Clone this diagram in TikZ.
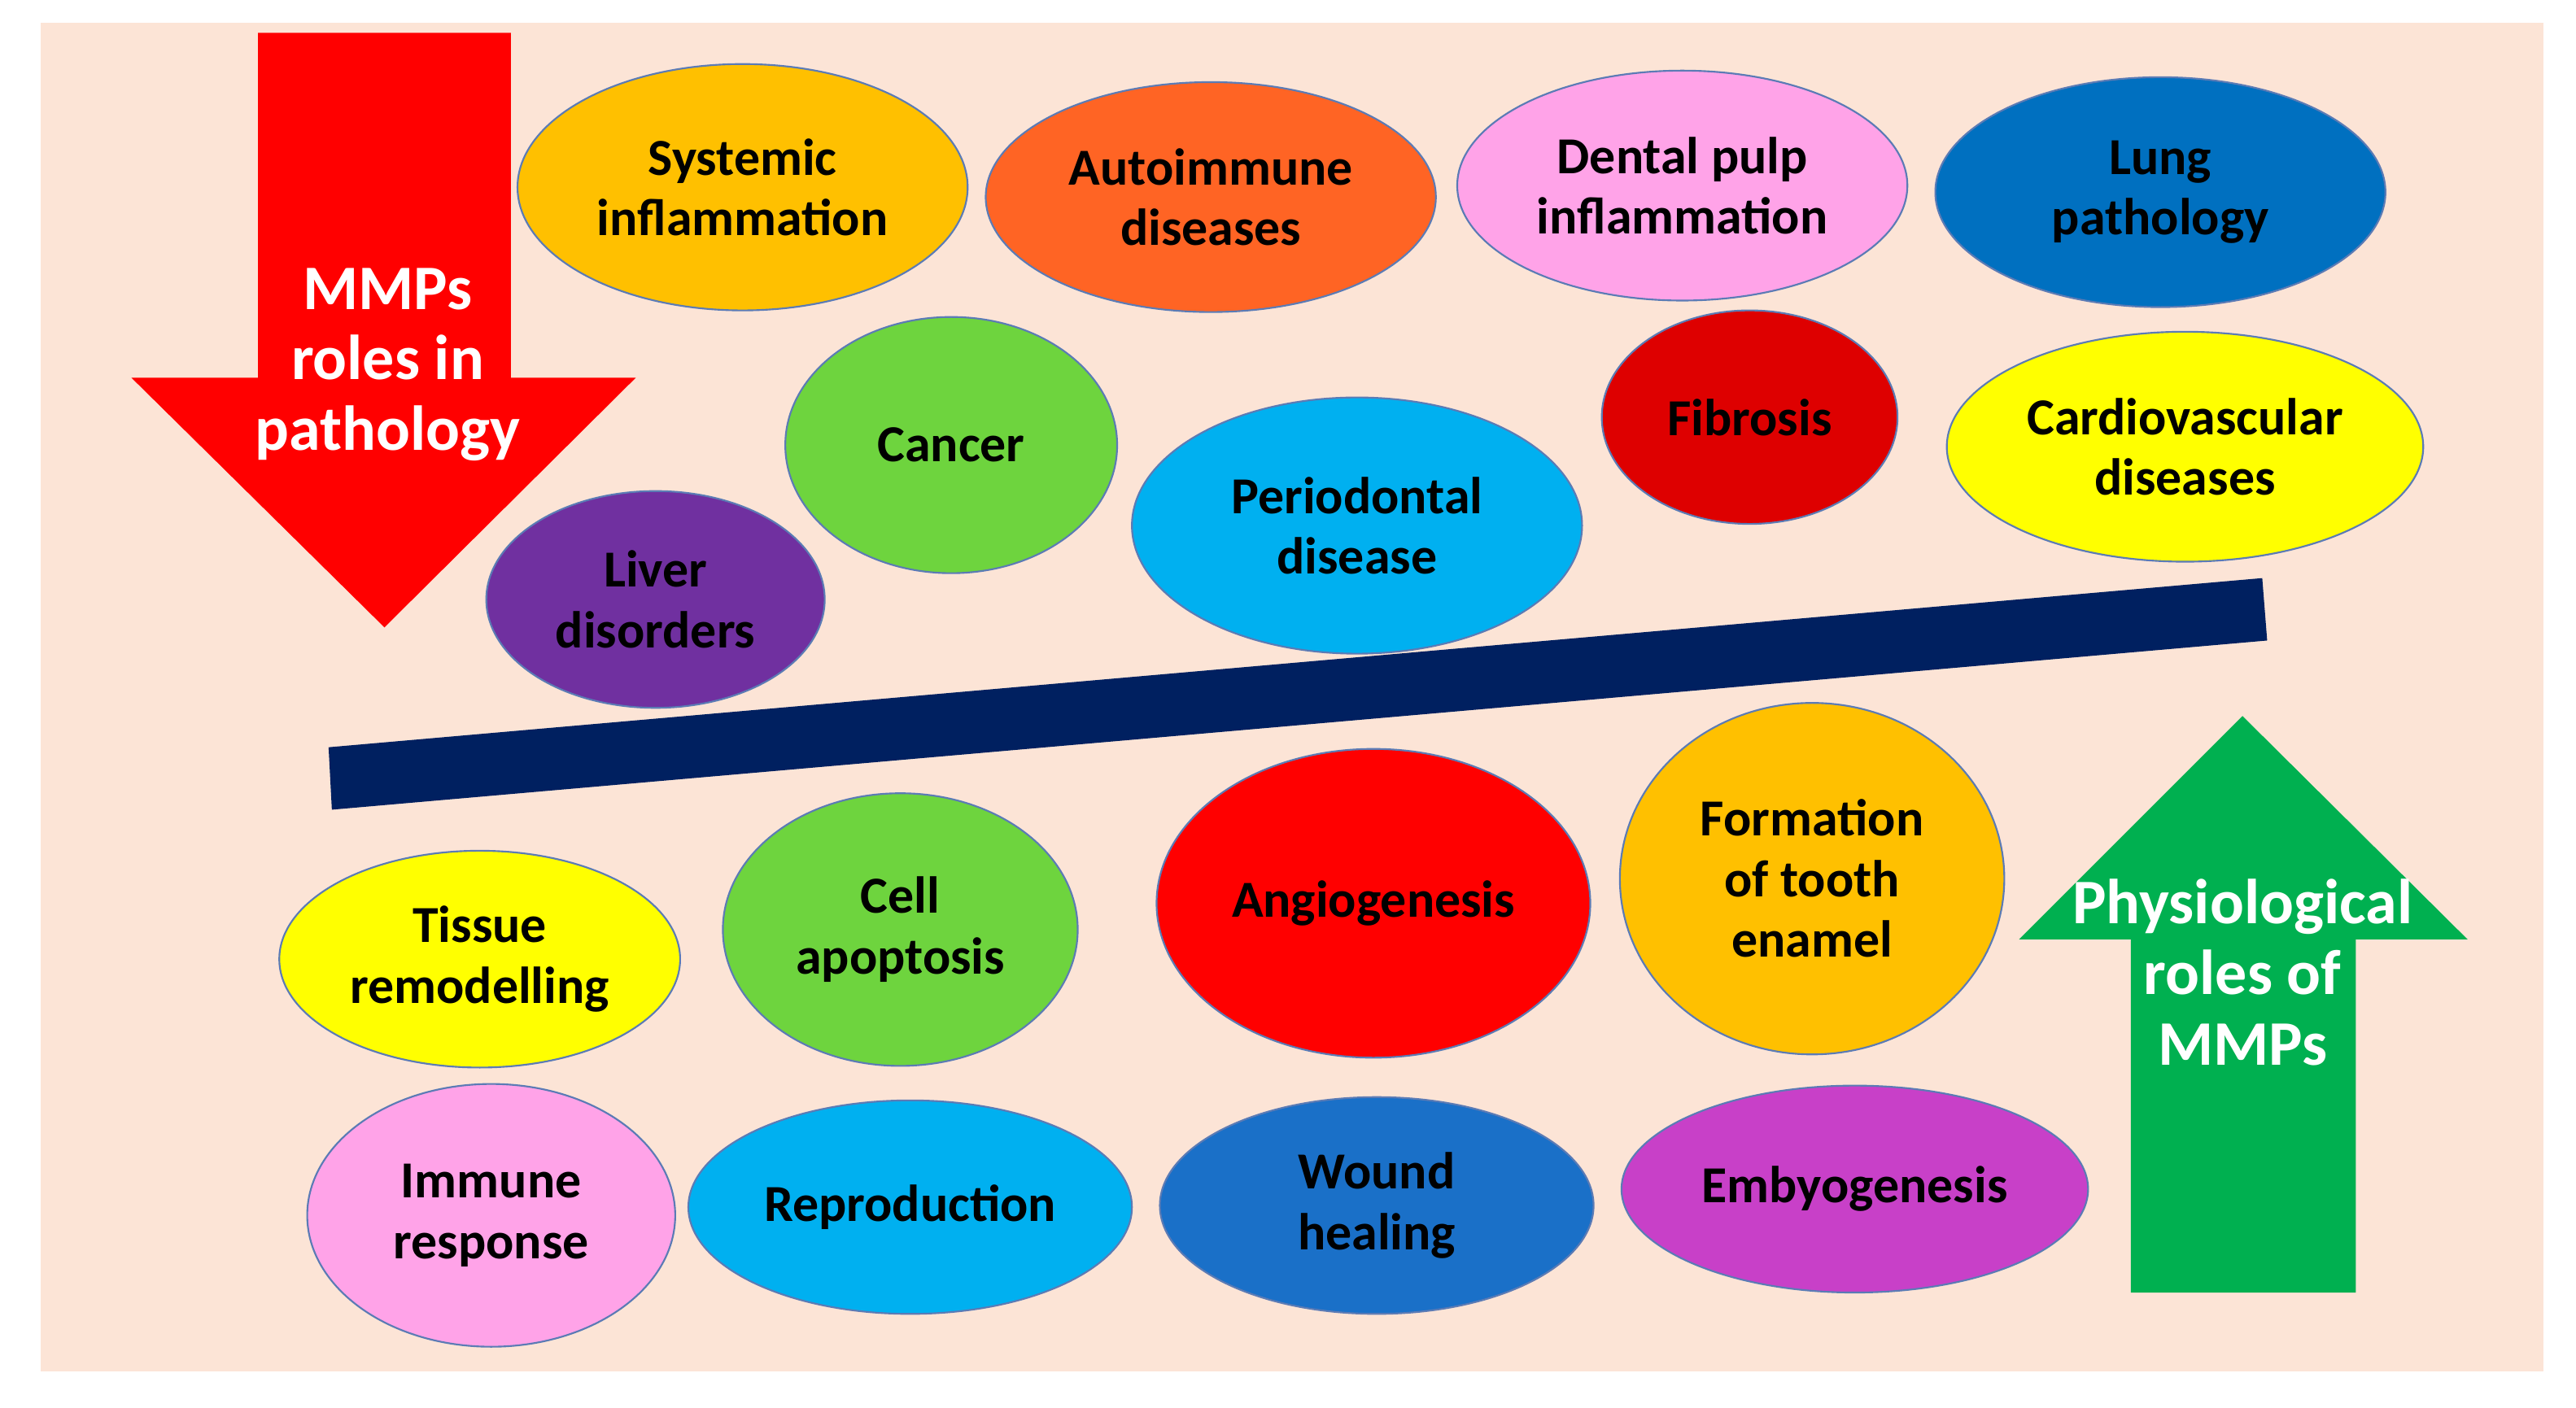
\documentclass[tikz,border=0pt]{standalone}
\usepackage{fontspec}
\setmainfont{Carlito}
\usetikzlibrary{shapes.geometric}
\definecolor{bg}{HTML}{FCE4D6}
\definecolor{bar}{HTML}{002060}
\definecolor{edge}{HTML}{5B7BB5}
\definecolor{phgreen}{HTML}{00B050}
\tikzset{
	blob/.style={ellipse,draw=edge,line width=0.6pt,inner sep=0pt,align=center,
		font=\bfseries\fontsize{18}{21}\selectfont,text=black},
	sz/.style 2 args={minimum width=#1*0.02cm,minimum height=#2*0.02cm},
	big/.style={align=center,text=white,font=\bfseries\fontsize{22}{24.5}\selectfont}
}
\begin{document}
\begin{tikzpicture}[x=0.02cm,y=-0.02cm]
	
	% Draw background
	\useasboundingbox (0,0) rectangle (1568,857);
	\fill[white] (0,0) rectangle (1568,857);
	\fill[bg] (25,14) rectangle (1548,835);
	
	% Draw arrows and bar
	\fill[red] (157,20) -- (311,20) -- (311,230) -- (387,230) -- (234,382) -- (80,230) -- (157,230) -- cycle;
	\fill[phgreen] (1365,436) -- (1502,572) -- (1434,572) -- (1434,787) -- (1297,787) -- (1297,572) -- (1229,572) -- cycle;
	\fill[bar] (200,455) -- (1377,352) -- (1380,390) -- (202,493) -- cycle;
	\node[big] (path) at (236,222) {MMPs\\roles in\\pathology};
	\node[big] (phys) at (1365,592) {Physiological\\roles of\\MMPs};
	
	% Draw ellipses, pathology
	\node[blob,fill={rgb,255:red,255;green,192;blue,0},sz={274}{150}] (sys) at (452,114) {Systemic\\inflammation};
	\node[blob,fill={rgb,255:red,255;green,100;blue,36},sz={274}{140}] (auto) at (737,120) {Autoimmune\\diseases};
	\node[blob,fill={rgb,255:red,255;green,163;blue,232},sz={274}{140}] (dent) at (1024,113) {Dental pulp\\inflammation};
	\node[blob,fill={rgb,255:red,0;green,112;blue,192},sz={274}{140}] (lung) at (1315,117) {Lung\\pathology};
	\node[blob,fill={rgb,255:red,110;green,212;blue,62},sz={202}{156}] (canc) at (579,271) {Cancer};
	\node[blob,fill={rgb,255:red,0;green,176;blue,240},sz={274}{156}] (perio) at (826,320) {Periodontal\\disease};
	\node[blob,fill={rgb,255:red,222;green,0;blue,0},sz={180}{130}] (fib) at (1065,254) {Fibrosis};
	\node[blob,fill={rgb,255:red,255;green,255;blue,0},sz={290}{140}] (card) at (1330,272) {Cardiovascular\\diseases};
	\node[blob,fill={rgb,255:red,112;green,48;blue,160},sz={206}{132}] (liver) at (399,365) {Liver\\disorders};
	
	% Draw ellipses, physiology
	\node[blob,fill={rgb,255:red,255;green,255;blue,0},sz={244}{132}] (tiss) at (292,584) {Tissue\\remodelling};
	\node[blob,fill={rgb,255:red,110;green,212;blue,62},sz={216}{166}] (cell) at (548,566) {Cell\\apoptosis};
	\node[blob,fill=red,sz={264}{188}] (angio) at (836,550) {Angiogenesis};
	\node[blob,fill={rgb,255:red,255;green,192;blue,0},sz={234}{214}] (tooth) at (1103,535) {Formation\\of tooth\\enamel};
	\node[blob,fill={rgb,255:red,255;green,163;blue,232},sz={224}{160}] (immu) at (299,740) {Immune\\response};
	\node[blob,fill={rgb,255:red,0;green,176;blue,240},sz={270}{130}] (repr) at (554,735) {Reproduction};
	\node[blob,fill={rgb,255:red,26;green,112;blue,200},sz={264}{132}] (wound) at (838,734) {Wound\\healing};
	\node[blob,fill={rgb,255:red,200;green,64;blue,200},sz={284}{126}] (emb) at (1129,724) {Embyogenesis};
	
\end{tikzpicture}
\end{document}
